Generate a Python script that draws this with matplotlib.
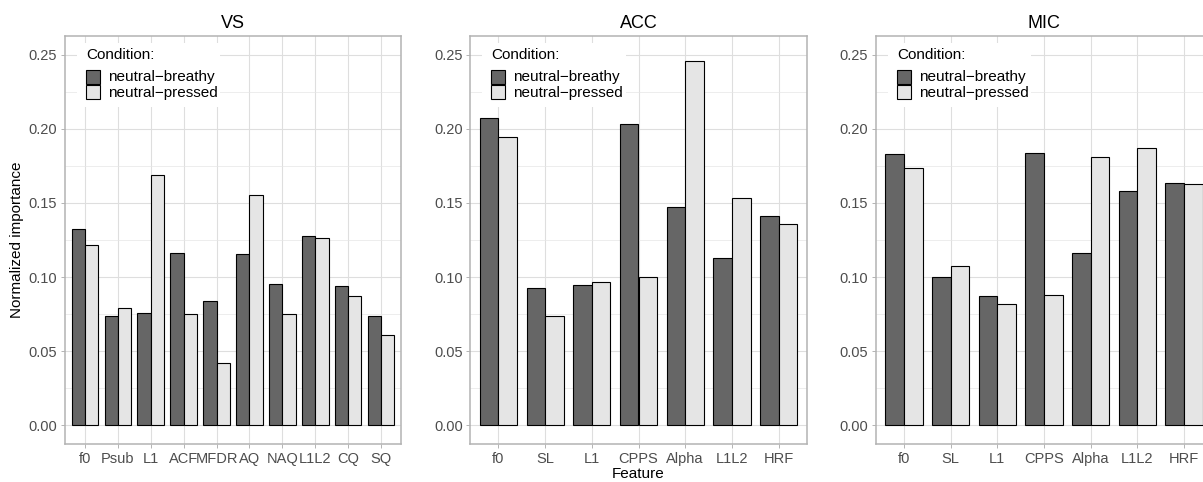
import matplotlib
matplotlib.use("Agg")
import matplotlib.pyplot as plt
from matplotlib.patches import Rectangle
import numpy as np

plt.rcParams['font.family'] = ['Liberation Sans', 'DejaVu Sans']

# feature importances
vs_features = ["f0", "Psub", "L1", "ACF", "MFDR", "AQ", "NAQ", "L1L2", "CQ", "SQ"]
vs_breathy = [0.1326, 0.0740, 0.0760, 0.1165, 0.0836, 0.1153, 0.0951, 0.1279, 0.0942, 0.0740]
vs_pressed = [0.1219, 0.0791, 0.1688, 0.0753, 0.0418, 0.1553, 0.0753, 0.1266, 0.0870, 0.0609]

acc_features = ["f0", "SL", "L1", "CPPS", "Alpha", "L1L2", "HRF"]
acc_breathy = [0.2071, 0.0926, 0.0944, 0.2035, 0.1475, 0.1131, 0.1412]
acc_pressed = [0.1947, 0.0735, 0.0967, 0.1000, 0.2459, 0.1533, 0.1356]

mic_features = ["f0", "SL", "L1", "CPPS", "Alpha", "L1L2", "HRF"]
mic_breathy = [0.1830, 0.0998, 0.0874, 0.1837, 0.1160, 0.1580, 0.1637]
mic_pressed = [0.1736, 0.1077, 0.0818, 0.0877, 0.1812, 0.1868, 0.1630]

conditions = ["neutral\u2212breathy", "neutral\u2212pressed"]
fill_colors = ["#666666", "#e5e5e5"]

W, H = 1203, 482
PW, PH = 336, 408   # panel size in pixels
fig = plt.figure(figsize=(W / 100, H / 100), dpi=100)


def add_legend(ax):
    # ggplot-style legend inside the panel, positions in pixels from top-left
    fx = lambda px: px / PW
    fy = lambda px: 1 - px / PH
    ax.add_patch(Rectangle((fx(12), fy(71)), fx(143), 64 / PH, transform=ax.transAxes,
                           facecolor="white", edgecolor="none", zorder=5))
    ax.text(fx(21), fy(19), "Condition:", transform=ax.transAxes, fontsize=11,
            va="center", ha="left", zorder=6)
    for i, (lab, col) in enumerate(zip(conditions, fill_colors)):
        top = 34 + 15 * i
        ax.add_patch(Rectangle((fx(21), fy(top + 14)), fx(14), 14 / PH,
                               transform=ax.transAxes, facecolor=col,
                               edgecolor="black", linewidth=0.8, zorder=6))
        ax.text(fx(43), fy(top + 7.5), lab, transform=ax.transAxes, fontsize=11,
                va="center", ha="left", zorder=6)


def panel(left_px, title, features, breathy, pressed, ylabel=None, xlabel=None):
    ax = fig.add_axes([left_px / W, (H - 444) / H, PW / W, PH / H])
    x = np.arange(len(features))
    bw = 0.4
    ax.bar(x - bw / 2, breathy, width=bw, color=fill_colors[0], edgecolor="black",
           linewidth=0.8, zorder=3)
    ax.bar(x + bw / 2, pressed, width=bw, color=fill_colors[1], edgecolor="black",
           linewidth=0.8, zorder=3)
    ax.set_xlim(-0.6, len(features) - 0.4)
    ax.set_ylim(-0.0125, 0.2625)
    ax.set_xticks(x)
    ax.set_xticklabels(features)
    ax.set_yticks(np.arange(0, 0.26, 0.05))
    ax.set_yticklabels([f"{v:.2f}" for v in np.arange(0, 0.26, 0.05)])
    ax.set_yticks(np.arange(0.025, 0.26, 0.05), minor=True)
    ax.grid(True, which="major", color="#dedede", linewidth=0.8, zorder=0)
    ax.grid(True, which="minor", axis="y", color="#e6e6e6", linewidth=0.5, zorder=0)
    ax.tick_params(axis="both", which="major", length=3, width=0.7, color="#b3b3b3",
                   labelcolor="#4d4d4d", labelsize=10.5, pad=2.5)
    ax.tick_params(axis="both", which="minor", length=0)
    for s in ax.spines.values():
        s.set_color("#b3b3b3")
        s.set_linewidth(1.1)
    ax.set_axisbelow(True)
    ax.set_title(title, fontsize=13, pad=6)
    if ylabel:
        ax.set_ylabel(ylabel, fontsize=11, labelpad=3)
    if xlabel:
        ax.set_xlabel(xlabel, fontsize=11, labelpad=1)
    add_legend(ax)
    return ax


panel(65, "VS", vs_features, vs_breathy, vs_pressed, ylabel="Normalized importance")
panel(470.5, "ACC", acc_features, acc_breathy, acc_pressed, xlabel="Feature")
panel(876, "MIC", mic_features, mic_breathy, mic_pressed)

fig.savefig("out.png", dpi=100)
